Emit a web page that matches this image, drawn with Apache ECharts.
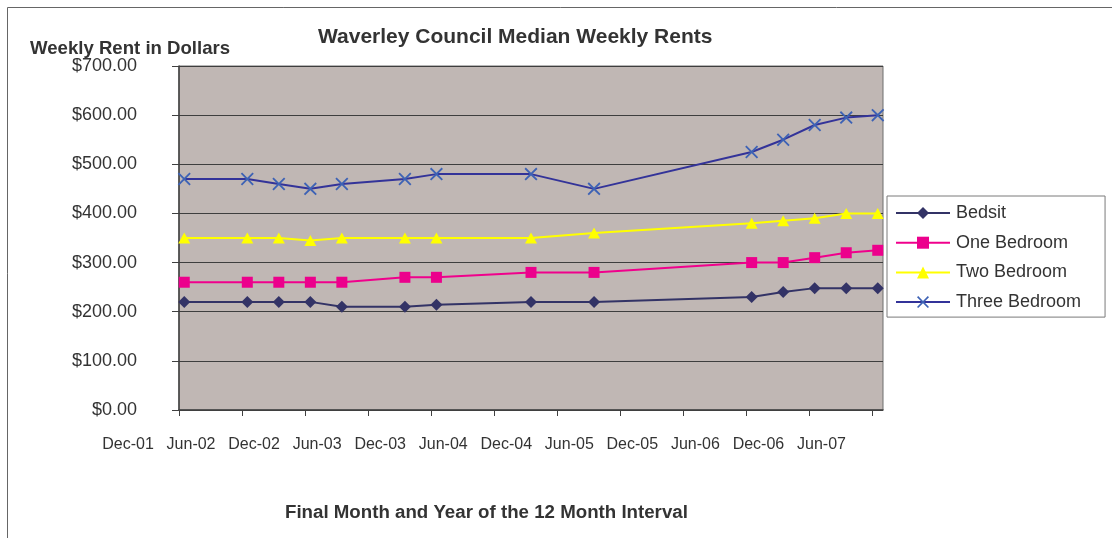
<!DOCTYPE html>
<html>
<head>
<meta charset="utf-8">
<title>Waverley Council Median Weekly Rents</title>
<script src="https://cdn.jsdelivr.net/npm/echarts@6/dist/echarts.min.js"></script>
<style>
    html, body { margin: 0; padding: 0; background: #fff; }
    #rent_chart { width: 1112px; height: 538px; }
</style>
</head>
<body>
<div id="rent_chart"></div>
<script>
    // final month of each 12 month interval
    var periods = ['Dec-01', 'Jun-02', 'Sep-02', 'Dec-02', 'Mar-03', 'Sep-03', 'Dec-03',
        'Sep-04', 'Mar-05', 'Jun-06', 'Sep-06', 'Dec-06', 'Mar-07', 'Jun-07'];
    var bedsit = [220, 220, 220, 220, 210, 210, 214, 220, 220, 230, 240, 248, 248, 248];
    var oneBedroom = [260, 260, 260, 260, 260, 270, 270, 280, 280, 300, 300, 310, 320, 325];
    var twoBedroom = [350, 350, 350, 345, 350, 350, 350, 350, 360, 380, 385, 390, 400, 400];
    var threeBedroom = [470, 470, 460, 450, 460, 470, 480, 480, 450, 525, 550, 580, 595, 600];
    var tickLabels = ['Dec-01', 'Jun-02', 'Dec-02', 'Jun-03', 'Dec-03', 'Jun-04',
        'Dec-04', 'Jun-05', 'Dec-05', 'Jun-06', 'Dec-06', 'Jun-07'];

    var monthNames = ['Jan', 'Feb', 'Mar', 'Apr', 'May', 'Jun', 'Jul', 'Aug', 'Sep', 'Oct', 'Nov', 'Dec'];
    var textColor = '#333333';

    // months since Dec-01, points sit in the middle of their month
    function monthIndex(label) {
        var parts = label.split('-');
        var m = monthNames.indexOf(parts[0]);
        var y = 2000 + parseInt(parts[1], 10);
        return (y - 2001) * 12 + m - 11;
    }

    function toPoints(values) {
        return values.map(function (v, i) {
            return [monthIndex(periods[i]) + 0.5, v];
        });
    }

    var tickValues = tickLabels.map(function (l) { return monthIndex(l); });

    var crossPath = 'path://M0,1L1,0L5,4L9,0L10,1L6,5L10,9L9,10L5,6L1,10L0,9L4,5Z';

    var myChart = echarts.init(document.getElementById('rent_chart'), null, { renderer: 'canvas' });

    myChart.setOption({
        animation: false,
        textStyle: { fontFamily: 'Liberation Sans, Arial, sans-serif' },
        title: [
            {
                text: 'Waverley Council Median Weekly Rents',
                left: 318, top: 27, padding: 0,
                textStyle: { fontSize: 21, fontWeight: 'bold', color: textColor }
            },
            {
                text: 'Weekly Rent in Dollars',
                left: 30, top: 39, padding: 0,
                textStyle: { fontSize: 18.6, fontWeight: 'bold', color: textColor }
            },
            {
                text: 'Final Month and Year of the 12 Month Interval',
                left: 285, top: 503, padding: 0,
                textStyle: { fontSize: 18.7, fontWeight: 'bold', color: textColor }
            }
        ],
        graphic: [{
            type: 'rect',
            shape: { x: 7.5, y: 7.5, width: 1120, height: 560 },
            style: { fill: 'none', stroke: '#666666', lineWidth: 1 },
            silent: true
        }],
        legend: {
            orient: 'vertical',
            left: 887, top: 196,
            padding: [8, 24, 6, 8],
            backgroundColor: '#ffffff',
            borderColor: '#7a7a7a',
            borderWidth: 1,
            borderRadius: 0,
            itemWidth: 54,
            itemHeight: 15,
            itemGap: 11.7,
            textStyle: { fontSize: 18, color: textColor, padding: [0, 0, 0, 1] },
            data: ['Bedsit', 'One Bedroom', 'Two Bedroom', 'Three Bedroom']
        },
        grid: {
            left: 179, right: 229, top: 66, bottom: 128,
            show: true,
            backgroundColor: '#c0b7b4',
            borderColor: '#6e6e6e',
            borderWidth: 1
        },
        xAxis: {
            type: 'value',
            min: 0, max: 67,
            splitLine: { show: false },
            axisLine: { onZero: false, lineStyle: { color: '#404040', width: 1.5 } },
            axisTick: { customValues: tickValues, length: 6, lineStyle: { color: '#404040' } },
            axisLabel: {
                customValues: tickValues,
                formatter: function (v) {
                    var i = tickValues.indexOf(v);
                    return i >= 0 ? tickLabels[i] : '';
                },
                fontSize: 16, color: textColor,
                margin: 27,
                padding: [0, 102, 0, 0]
            }
        },
        yAxis: {
            type: 'value',
            min: 0, max: 700, interval: 100,
            axisLine: { show: true, lineStyle: { color: '#404040', width: 1.5 } },
            axisTick: { show: true, length: 7, lineStyle: { color: '#404040' } },
            splitLine: { lineStyle: { color: '#3e3e3e', width: 1.2 } },
            axisLabel: {
                formatter: function (v) { return '$' + v.toFixed(2); },
                fontSize: 18, color: textColor,
                margin: 42,
                padding: [0, 0, 5, 0]
            }
        },
        series: [
            {
                name: 'Bedsit', type: 'line',
                data: toPoints(bedsit),
                symbol: 'diamond', symbolSize: 12,
                lineStyle: { color: '#333366', width: 2 },
                itemStyle: { color: '#333366' }
            },
            {
                name: 'One Bedroom', type: 'line',
                data: toPoints(oneBedroom),
                symbol: 'rect', symbolSize: 11,
                lineStyle: { color: '#f0008c', width: 2 },
                itemStyle: { color: '#ec008c' }
            },
            {
                name: 'Two Bedroom', type: 'line',
                data: toPoints(twoBedroom),
                symbol: 'triangle', symbolSize: [12, 11],
                lineStyle: { color: '#ffff00', width: 2 },
                itemStyle: { color: '#ffff00' }
            },
            {
                name: 'Three Bedroom', type: 'line',
                data: toPoints(threeBedroom),
                symbol: crossPath, symbolSize: 13,
                lineStyle: { color: '#333399', width: 2 },
                itemStyle: { color: '#3d62b5' }
            }
        ]
    });
</script>
</body>
</html>
